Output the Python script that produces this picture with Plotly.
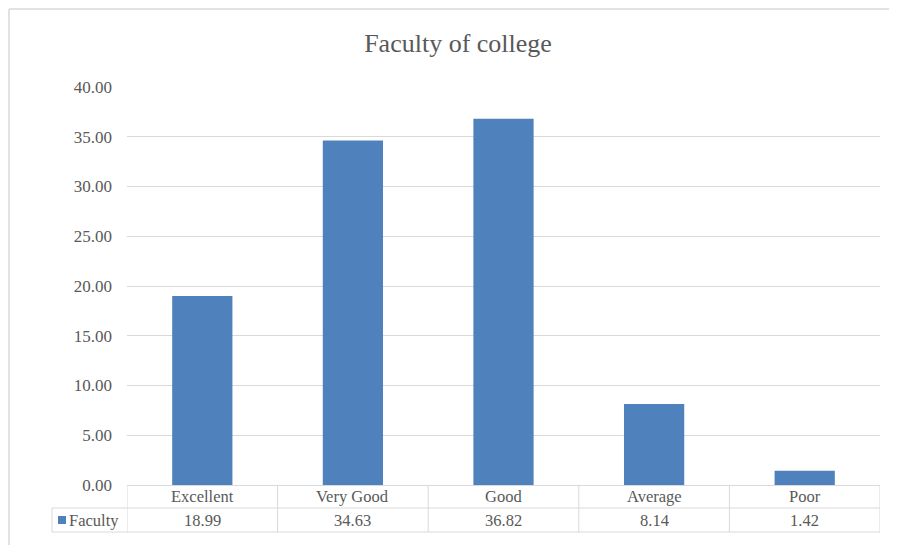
import plotly.graph_objects as go

categories = ["Excellent", "Very Good", "Good", "Average", "Poor"]
faculty = [18.99, 34.63, 36.82, 8.14, 1.42]
series_name = "Faculty"
title_text = "Faculty of college"
y_ticks = [0, 5, 10, 15, 20, 25, 30, 35, 40]

W, H = 897, 545
OFF = 8  # page body margin offset
ML, MT = 127 - OFF, 87 - OFF
PW, PH = 753, 398
MR = W - ML - PW
MB = H - MT - PH

def px_x(px):
    return (px - OFF - ML) / PW

def px_y(py):
    return (MT + PH - (py - OFF)) / PH

TXT = "#595959"
GRID = "#d9d9d9"
BLUE = "#4f81bd"
FONT = "Liberation Serif, Times New Roman, serif"

fig = go.Figure()
fig.add_trace(go.Bar(x=list(range(len(categories))), y=faculty, name=series_name,
                     marker=dict(color=BLUE, line=dict(width=0)), showlegend=False))

shapes = []
annotations = []
row1_top, row1_bot, row2_bot = 485, 508, 532
n = len(categories)
for py, x0 in [(row1_bot, 52), (row2_bot, 52)]:
    shapes.append(dict(type="line", xref="paper", yref="paper", x0=px_x(x0), x1=1,
                       y0=px_y(py), y1=px_y(py), line=dict(color=GRID, width=1)))
for k in range(n + 1):
    shapes.append(dict(type="line", xref="x", yref="paper", x0=k - 0.5, x1=k - 0.5,
                       y0=px_y(row1_top), y1=px_y(row2_bot), line=dict(color=GRID, width=1)))
shapes.append(dict(type="line", xref="paper", yref="paper", x0=px_x(52), x1=px_x(52),
                   y0=px_y(row1_bot), y1=px_y(row2_bot), line=dict(color=GRID, width=1)))
shapes.append(dict(type="line", xref="paper", yref="paper", x0=px_x(9), x1=px_x(905),
                   y0=px_y(9), y1=px_y(9), line=dict(color=GRID, width=1.5)))
shapes.append(dict(type="line", xref="paper", yref="paper", x0=px_x(9), x1=px_x(9),
                   y0=px_y(9), y1=px_y(553), line=dict(color=GRID, width=1.5)))

for i, c in enumerate(categories):
    annotations.append(dict(x=i, xref="x", y=px_y((row1_top + row1_bot) / 2), yref="paper",
                            text=c, showarrow=False, font=dict(family=FONT, size=16.5, color=TXT),
                            xanchor="center", yanchor="middle"))
    annotations.append(dict(x=i, xref="x", y=px_y((row1_bot + row2_bot) / 2), yref="paper",
                            text=f"{faculty[i]:.2f}", showarrow=False,
                            font=dict(family=FONT, size=16.5, color=TXT),
                            xanchor="center", yanchor="middle"))
shapes.append(dict(type="rect", xref="paper", yref="paper", x0=px_x(58), x1=px_x(66),
                   y0=px_y(524), y1=px_y(516), fillcolor=BLUE, line=dict(width=0)))
annotations.append(dict(x=px_x(67), xref="paper", y=px_y((row1_bot + row2_bot) / 2), yref="paper",
                        text=series_name, showarrow=False, font=dict(family=FONT, size=16.5, color=TXT),
                        xanchor="left", yanchor="middle"))

fig.update_layout(
    width=W, height=H,
    margin=dict(l=ML, r=MR, t=MT, b=MB),
    paper_bgcolor="white", plot_bgcolor="white",
    title=dict(text=title_text, x=(458 - OFF) / W, xanchor="center", y=1 - (43 - OFF) / H,
               yanchor="middle", font=dict(family=FONT, size=26, color=TXT)),
    bargap=0.6,
    xaxis=dict(range=[-0.5, n - 0.5], showticklabels=False, showgrid=False, zeroline=False,
               showline=True, linecolor=GRID, linewidth=1, fixedrange=True),
    yaxis=dict(range=[0, 40], tickvals=y_ticks, tickformat=".2f", showgrid=True, gridcolor=GRID,
               gridwidth=1, zeroline=False, showline=False, ticks="", ticklabelstandoff=14,
               tickfont=dict(family=FONT, size=17, color=TXT), fixedrange=True),
    shapes=shapes, annotations=annotations,
)

fig.write_html("out.html")
